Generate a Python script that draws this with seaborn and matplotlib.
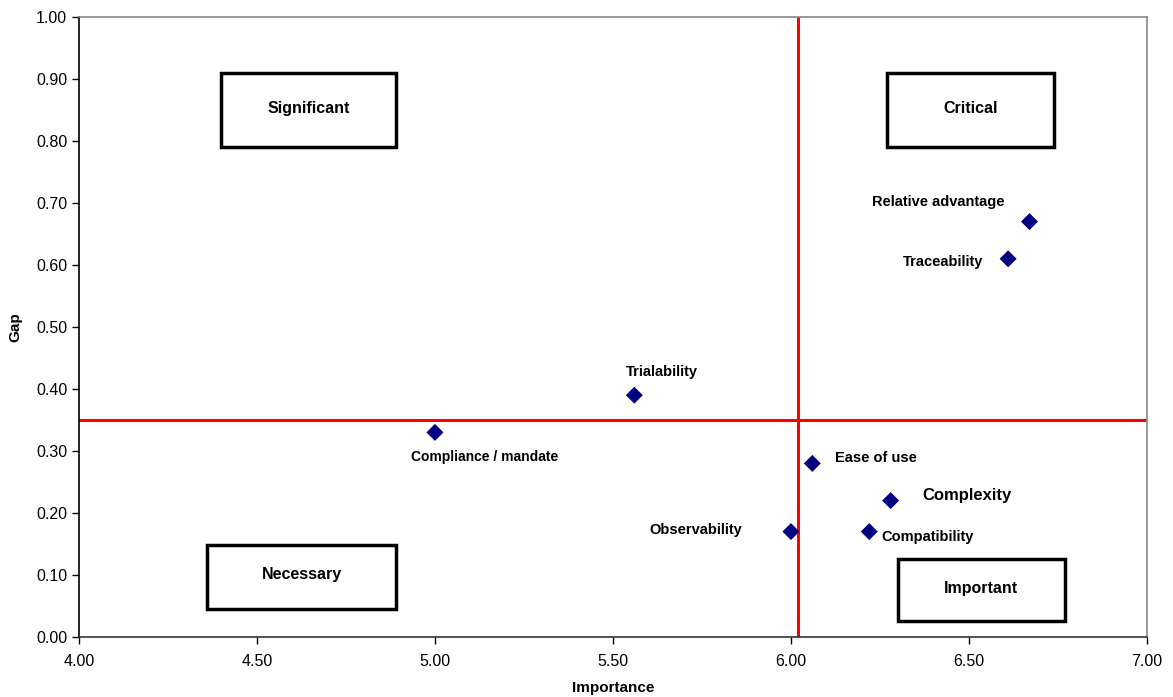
import matplotlib
matplotlib.use("Agg")
import matplotlib.pyplot as plt
from matplotlib.patches import Rectangle
import seaborn as sns
import pandas as pd

# attributes, importance (x) and gap (y)
attributes = ["Compliance / mandate", "Trialability", "Observability", "Ease of use",
              "Compatibility", "Complexity", "Traceability", "Relative advantage"]
importance = [5.00, 5.56, 6.00, 6.06, 6.22, 6.28, 6.61, 6.67]
gap = [0.33, 0.39, 0.17, 0.28, 0.17, 0.22, 0.61, 0.67]

# quadrant split lines
importance_split = 6.02
gap_split = 0.35

quadrants = ["Significant", "Critical", "Necessary", "Important"]

df = pd.DataFrame({"Importance": importance, "Gap": gap, "Attribute": attributes})

sns.set_style("white")
plt.rcParams['font.family'] = ['Liberation Sans', 'DejaVu Sans']
plt.rcParams['text.color'] = 'black'
plt.rcParams['axes.labelcolor'] = 'black'

fig = plt.figure(figsize=(11.73, 6.97), dpi=100)
ax = fig.add_axes([0.0673, 0.0861, 0.9105, 0.8895])

ax.axvline(importance_split, color="red", lw=2.2, zorder=1)
ax.axhline(gap_split, color="red", lw=2.2, zorder=1)

sns.scatterplot(data=df, x="Importance", y="Gap", marker="D", color="#000080",
                s=75, edgecolor="none", ax=ax, zorder=3)

# label placement: (dx, dy) in points, alignment, size
label_pos = {
    "Relative advantage": (-66, 14, "center", 10.5),
    "Traceability": (-18, -2, "right", 10.5),
    "Trialability": (-6, 17, "left", 10.5),
    "Compliance / mandate": (-17, -18, "left", 10),
    "Ease of use": (16, 4, "left", 10.5),
    "Complexity": (23, 4, "left", 12),
    "Observability": (-35, 1, "right", 10.5),
    "Compatibility": (9, -4, "left", 10.5),
}
for a, x, y in zip(attributes, importance, gap):
    dx, dy, ha, fs = label_pos[a]
    ax.annotate(a, (x, y), xytext=(dx, dy), textcoords="offset points",
                ha=ha, va="center", fontsize=fs, fontweight="bold", color="black")

# quadrant boxes (x0, y0, w, h)
boxes = [(4.40, 0.79, 0.49, 0.12), (6.27, 0.79, 0.47, 0.12),
         (4.36, 0.045, 0.53, 0.104), (6.30, 0.026, 0.47, 0.100)]
for name, (x0, y0, w, h) in zip(quadrants, boxes):
    ax.add_patch(Rectangle((x0, y0), w, h, facecolor="white", edgecolor="black",
                           lw=2.5, zorder=4))
    ax.text(x0 + w / 2, y0 + h / 2 + 0.003, name, ha="center", va="center",
            fontsize=11.5, fontweight="bold", color="black", zorder=5)

ax.set_xlim(4, 7)
ax.set_ylim(0, 1)
ax.set_xticks([4 + 0.5 * i for i in range(7)])
ax.set_yticks([0.1 * i for i in range(11)])
ax.xaxis.set_major_formatter(lambda v, p: f"{v:.2f}")
ax.yaxis.set_major_formatter(lambda v, p: f"{v:.2f}")
ax.tick_params(axis="both", direction="out", length=5, width=1, labelsize=11.5,
               bottom=True, left=True, colors="black")
ax.tick_params(axis="x", pad=7)

ax.set_xlabel("Importance", fontsize=11, fontweight="bold", labelpad=9)
ax.set_ylabel("Gap", fontsize=11, fontweight="bold", labelpad=10)

ax.spines["left"].set_color("black")
ax.spines["bottom"].set_color("#333333")
ax.spines["top"].set_color("#888888")
ax.spines["right"].set_color("#888888")
for s in ax.spines.values():
    s.set_linewidth(1.2)

fig.savefig("out.png", dpi=100)
